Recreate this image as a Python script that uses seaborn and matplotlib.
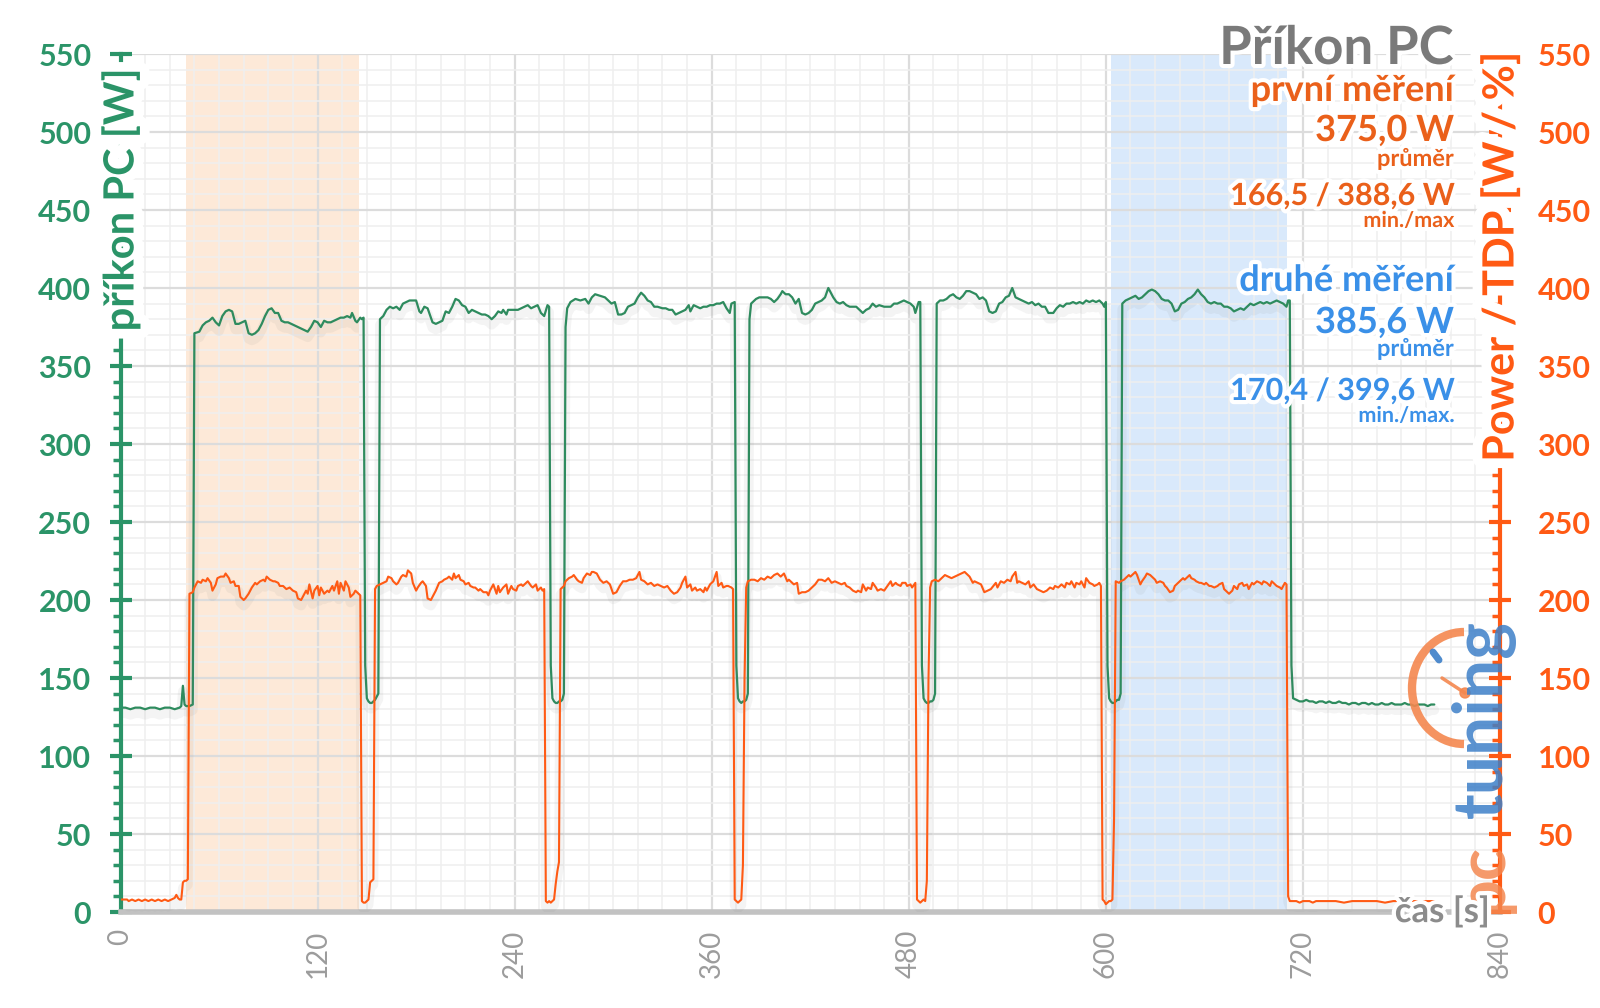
import matplotlib
matplotlib.use("Agg")
import matplotlib.pyplot as plt
import matplotlib.patheffects as pe
from matplotlib.patches import Arc, Circle
from matplotlib.ticker import MultipleLocator
import seaborn as sns

# ---------------- data ----------------
# PC power (green, left axis), time in s
pc_time = [0, 3, 6, 9, 12, 15, 18, 21, 24, 27, 30, 33, 36, 37, 38, 39, 40, 42, 44,
           45, 48, 50, 52, 54, 56, 58, 60, 62, 64, 66, 68, 70, 72, 74, 76, 78, 80, 82, 84, 86, 88, 90, 92, 94, 96, 98,
           100, 102, 104, 106, 108, 110, 112, 114, 116, 118, 120, 122, 124, 126, 128, 130, 132, 134, 136, 138, 140,
           141, 143, 144, 146, 147, 148,
           149, 150, 151, 152, 153, 154, 155, 156, 157,
           158, 160, 162, 164, 166, 168, 170, 172, 174, 176, 178, 180, 182, 183, 185, 187, 190, 192, 194, 196, 198,
           200, 202, 204, 206, 208, 210, 212, 214, 216, 218, 220, 222, 224, 226, 228, 230, 232, 233, 235, 236, 238,
           240, 242, 244, 246, 248, 250, 252, 254, 256, 258, 260, 261,
           262, 263, 264, 265, 266, 267, 268, 269, 270, 271,
           272, 274, 277, 280, 283, 285, 287, 289, 292, 295, 297, 299, 301, 303, 305, 307, 309, 311, 313, 315, 317,
           319, 321, 323, 325, 327, 330, 332, 334, 336, 338, 340, 342, 344, 346, 347, 349, 351, 353, 355, 357, 359,
           361, 363, 365, 367, 369, 371, 372, 374,
           375, 376, 377, 378, 379, 380, 381, 382, 383,
           384, 385, 387, 389, 392, 394, 396, 398, 400, 402, 403, 405, 407, 409, 411, 413, 415, 417, 419, 421, 423,
           425, 427, 429, 431, 433, 434, 436, 438, 440, 442, 444, 446, 448, 450, 452, 454, 456, 458, 460, 462, 465,
           467, 469, 471, 473, 475, 477, 479, 481, 483, 484, 486, 487,
           488, 489, 490, 491, 492, 493, 494, 495, 496,
           497, 499, 501, 503, 505, 507, 509, 511, 513, 515, 517, 519, 521, 523, 525, 527, 529, 531, 533, 535, 537,
           539, 541, 543, 545, 547, 549, 551, 553, 555, 557, 559, 561, 563, 565, 568, 570, 572, 574, 576, 578, 580,
           582, 584, 586, 588, 590, 592, 594, 596, 598, 599, 600,
           601, 602, 603, 604, 605, 606, 607, 608, 609,
           610, 612, 614, 616, 618, 620, 622, 624, 626, 628, 630, 632, 634, 636, 638, 640, 642, 644, 646, 648, 650,
           652, 654, 656, 658, 660, 662, 664, 666, 668, 670, 672, 674, 676, 678, 680, 682, 684, 686, 688, 690, 692,
           694, 696, 698, 700, 702, 704, 706, 708, 710, 711, 712,
           713, 714, 716, 718, 720, 722, 724, 726, 728, 730, 732, 734, 736, 738, 740, 742, 744, 746, 748, 750, 752,
           754, 756, 758, 760, 762, 764, 766, 768, 770, 772, 774, 776, 778, 780, 782, 784, 786, 788, 790, 792, 794,
           796, 798, 800]
pc_power = [131, 131, 130, 131, 131, 130, 131, 131, 130, 131, 131, 130, 131, 132, 145, 133, 132, 132, 133,
            371, 372, 376, 378, 379, 381, 378, 376, 382, 385, 386, 385, 377, 377, 378, 379, 371, 370, 371, 373, 377,
            382, 386, 387, 384, 384, 379, 378, 378, 377, 376, 375, 374, 373, 372, 375, 379, 378, 375, 379, 378, 378,
            379, 380, 381, 381, 382, 381, 384, 379, 378, 381, 380, 381,
            158, 137, 135, 134, 134, 135, 136, 138, 140,
            380, 382, 386, 388, 387, 388, 386, 390, 391, 392, 392, 392, 385, 384, 388, 387, 378, 377, 378, 379, 385,
            384, 388, 393, 392, 389, 388, 384, 386, 385, 384, 383, 383, 382, 380, 382, 385, 384, 386, 383, 386, 386,
            386, 386, 387, 388, 389, 387, 388, 389, 384, 382, 389, 388,
            158, 137, 135, 134, 134, 135, 135, 136, 140, 375,
            387, 391, 393, 392, 393, 390, 394, 396, 395, 394, 392, 390, 391, 383, 383, 384, 388, 389, 390, 394, 397,
            395, 392, 391, 388, 388, 387, 387, 386, 386, 383, 384, 385, 386, 389, 385, 389, 388, 387, 388, 388, 389,
            389, 390, 390, 391, 387, 384, 390, 391,
            158, 137, 135, 134, 135, 135, 136, 140, 380,
            390, 391, 393, 394, 394, 394, 393, 391, 393, 396, 398, 396, 396, 394, 390, 393, 384, 383, 384, 386, 390,
            391, 392, 394, 400, 396, 394, 391, 390, 391, 389, 388, 388, 388, 386, 384, 386, 387, 390, 388, 389, 388,
            388, 388, 390, 390, 391, 392, 391, 390, 388, 384, 391, 391,
            158, 137, 135, 134, 134, 135, 135, 136, 140,
            390, 392, 392, 393, 395, 396, 394, 393, 395, 398, 398, 397, 396, 393, 394, 392, 385, 384, 385, 390, 391,
            394, 395, 400, 394, 393, 392, 391, 390, 391, 389, 390, 388, 388, 384, 384, 387, 389, 388, 390, 390, 391,
            390, 391, 390, 392, 391, 392, 391, 392, 390, 388, 391,
            158, 137, 135, 134, 134, 135, 136, 136, 140,
            390, 392, 393, 394, 395, 393, 394, 396, 398, 399, 398, 396, 393, 392, 392, 390, 385, 386, 390, 391, 393,
            394, 396, 399, 396, 394, 391, 390, 391, 390, 390, 388, 388, 387, 385, 386, 387, 386, 388, 390, 389, 390,
            391, 390, 391, 390, 391, 392, 391, 390, 388, 392, 392,
            158, 137, 136, 135, 135, 136, 135, 135, 134, 135, 135, 134, 135, 134, 134, 135, 134, 134, 133, 134, 134,
            133, 134, 134, 133, 134, 133, 133, 134, 133, 133, 134, 133, 133, 133, 134, 133, 133, 132, 133, 133, 133,
            132, 133, 133]

# CPU Power / TDP (orange, right axis)
cpu_time = [0, 2, 4, 5, 7, 9, 11, 13, 15, 17, 19, 21, 23, 25, 27, 29, 31, 33, 34, 35, 36, 37, 38, 39, 40, 41,
            42, 44, 45, 47, 49, 50, 52, 53, 55, 56, 58, 59, 61, 63, 64, 66, 67, 69, 70, 72, 73, 75, 76, 78, 80, 82,
            83, 85, 87, 88, 89, 91, 93, 94, 96, 97, 99, 101, 103, 105, 107, 108, 110, 111, 113, 114, 115, 117, 118,
            120, 121, 122, 124, 126, 127, 129, 130, 132, 133, 134, 136, 137, 139, 140, 142, 143, 145, 146,
            147, 148, 149, 150, 151, 152, 153, 154,
            155, 156, 158, 160, 162, 163, 165, 166, 168, 169, 171, 172, 174, 175, 177, 178, 180, 181, 183, 184, 186,
            187, 189, 190, 192, 194, 196, 197, 199, 200, 202, 203, 204, 206, 207, 209, 210, 212, 213, 215, 216, 218,
            219, 221, 223, 224, 225, 227, 229, 230, 231, 233, 235, 236, 238, 239, 241, 242, 244, 245, 247, 248, 250,
            251, 253, 254, 256, 257, 258,
            259, 260, 261, 262, 263, 264, 265, 266, 267,
            268, 270, 271, 273, 275, 276, 278, 279, 281, 282, 284, 286, 287, 288, 290, 292, 294, 296, 298, 300, 302,
            304, 306, 308, 310, 312, 314, 316, 317, 319, 321, 323, 325, 327, 329, 331, 333, 335, 337, 339, 341, 342,
            344, 345, 347, 348, 350, 351, 353, 355, 356, 357, 359, 361, 363, 364, 366, 367, 369, 370, 372, 373,
            374, 375, 376, 377, 378, 379, 380, 381,
            382, 384, 386, 388, 390, 392, 394, 396, 398, 400, 402, 404, 406, 407, 409, 410, 412, 413, 415, 417, 419,
            421, 423, 425, 427, 429, 431, 433, 435, 437, 439, 441, 442, 444, 446, 448, 449, 451, 452, 454, 455, 457,
            458, 460, 461, 463, 465, 467, 469, 470, 472, 473, 475, 476, 478, 479, 481, 482, 484,
            485, 486, 487, 488, 489, 490, 491, 492, 493,
            494, 496, 498, 500, 502, 504, 506, 508, 510, 512, 514, 516, 517, 519, 520, 522, 524, 526, 528, 530, 533,
            534, 536, 538, 540, 542, 543, 545, 546, 547, 549, 551, 553, 554, 556, 558, 560, 562, 564, 566, 568, 569,
            571, 573, 575, 576, 578, 579, 581, 582, 584, 585, 587, 588, 590, 592, 593, 595, 596, 597,
            598, 599, 600, 601, 602, 603, 604, 605,
            606, 608, 609, 611, 612, 614, 615, 617, 618, 619, 621, 622, 624, 625, 627, 629, 630, 631, 633, 635, 636,
            637, 639, 641, 642, 644, 645, 647, 648, 650, 651, 652, 654, 655, 657, 658, 660, 661, 663, 664, 666, 668,
            669, 671, 672, 674, 675, 677, 678, 680, 681, 683, 684, 686, 687, 689, 690, 692, 694, 695, 696, 698, 700,
            701, 702, 704, 706, 707, 709, 710,
            711, 712, 714, 716, 718, 720, 722, 724, 726, 728, 730, 735, 740, 745, 750, 755, 760, 765, 770, 775, 780,
            785, 790, 795, 800]
cpu_power = [8, 8, 8, 7, 8, 7, 8, 7, 8, 7, 8, 7, 8, 7, 8, 7, 8, 9, 11, 9, 8, 8, 19, 20, 20, 21,
             204, 205, 208, 212, 211, 213, 212, 214, 211, 206, 210, 214, 215, 215, 217, 214, 211, 212, 209, 209,
             202, 200, 201, 204, 208, 211, 210, 212, 213, 212, 215, 213, 212, 212, 211, 209, 209, 207, 208, 206,
             205, 201, 200, 202, 206, 204, 210, 201, 206, 209, 203, 208, 204, 206, 205, 209, 206, 212, 204, 211,
             206, 212, 208, 202, 204, 206, 204, 203,
             7, 6, 6, 7, 8, 19, 20, 21,
             207, 209, 210, 211, 212, 215, 214, 212, 210, 211, 215, 216, 215, 219, 217, 211, 206, 208, 211, 212, 209,
             201, 200, 202, 206, 211, 212, 213, 214, 215, 213, 217, 214, 216, 213, 212, 210, 211, 209, 208, 208, 206,
             207, 205, 205, 203, 206, 210, 204, 209, 205, 208, 210, 204, 209, 207, 206, 209, 210, 209, 211, 212, 209,
             208, 210, 206, 208, 206, 207,
             7, 6, 7, 6, 7, 8, 18, 26, 32,
             207, 209, 212, 214, 215, 216, 213, 212, 211, 214, 217, 216, 218, 218, 217, 213, 211, 212, 210, 204, 205,
             209, 212, 212, 213, 213, 214, 218, 213, 212, 210, 211, 209, 210, 209, 208, 209, 206, 204, 205, 208, 211,
             215, 208, 210, 206, 208, 206, 207, 205, 208, 206, 210, 212, 218, 209, 211, 208, 209, 209, 208, 207,
             8, 7, 6, 7, 8, 30, 150, 208,
             212, 213, 213, 212, 214, 213, 215, 214, 216, 217, 215, 217, 212, 213, 211, 210, 211, 204, 205, 205, 206,
             208, 210, 213, 213, 212, 214, 211, 212, 211, 210, 211, 209, 208, 206, 205, 206, 205, 210, 206, 208, 207,
             211, 208, 206, 207, 206, 209, 212, 209, 211, 210, 209, 211, 211, 209, 210, 208, 211,
             8, 7, 6, 7, 8, 7, 20, 150, 208,
             212, 213, 212, 214, 216, 215, 214, 215, 216, 217, 218, 216, 215, 211, 212, 211, 210, 205, 206, 207, 211,
             208, 212, 211, 213, 212, 215, 218, 211, 212, 211, 210, 212, 208, 210, 207, 206, 205, 206, 208, 207, 209,
             208, 210, 208, 211, 210, 212, 208, 211, 210, 212, 208, 214, 211, 210, 209, 210, 211, 209,
             8, 7, 5, 6, 7, 7, 8, 60,
             212, 211, 212, 213, 214, 216, 215, 217, 218, 216, 210, 212, 215, 217, 216, 214, 213, 211, 212, 211, 209,
             208, 205, 206, 209, 211, 212, 214, 213, 215, 216, 214, 213, 212, 211, 211, 210, 211, 209, 209, 208, 209,
             210, 211, 207, 205, 204, 206, 209, 207, 210, 211, 209, 210, 207, 211, 210, 212, 211, 210, 212, 211, 209,
             212, 211, 209, 208, 207, 211, 210,
             10, 7, 7, 7, 6, 7, 7, 7, 6, 7, 7, 7, 7, 6, 7, 7, 7, 7, 6, 7, 7,
             7, 7, 7, 7]

# highlighted measurement windows (s)
window_first = [40, 145]
window_second = [603, 710]

x_ticks = [0, 120, 240, 360, 480, 600, 720, 840]
y_ticks = [0, 50, 100, 150, 200, 250, 300, 350, 400, 450, 500, 550]

# ---------------- style ----------------
GREEN_LINE = '#2e8b5e'
GREEN = '#2b9468'
ORANGE = '#ff5a14'
ORANGE_TXT = '#ea601a'
BLUE_TXT = '#3a90e8'
GRAY = '#9c9c9c'

sns.set_theme(style="white")
plt.rcParams['font.family'] = ['Lato', 'DejaVu Sans']

fig = plt.figure(figsize=(16, 10.08), dpi=100)
L, R, T, B = 120.5, 1500, 54, 912
ax = fig.add_axes([L / 1600, 1 - B / 1008, (R - L) / 1600, (B - T) / 1008])
ax2 = ax.twinx()

for a in (ax, ax2):
    a.set_xlim(0, 840)
    a.set_ylim(0, 550)

ax.set_axisbelow(True)
ax.xaxis.set_minor_locator(MultipleLocator(15))
ax.yaxis.set_minor_locator(MultipleLocator(10))
ax2.yaxis.set_minor_locator(MultipleLocator(10))
ax.grid(which='major', color='#dcdcdc', lw=1.6)
ax.grid(which='minor', color='#efefef', lw=1.1)
ax2.grid(False)

ax.axvspan(*window_first, color='#fde6d2', alpha=0.85, lw=0, zorder=0)
ax.axvspan(*window_second, color='#d5e7fb', alpha=0.9, lw=0, zorder=0)

shadow = [pe.SimpleLineShadow(offset=(0, -4), shadow_color='#777777', alpha=0.08, linewidth=7), pe.Normal()]
sns.lineplot(x=pc_time, y=pc_power, ax=ax, color=GREEN_LINE, lw=1.6, estimator=None, sort=False)
ax.lines[-1].set_path_effects(shadow)
sns.lineplot(x=cpu_time, y=cpu_power, ax=ax2, color=ORANGE, lw=1.5, estimator=None, sort=False)
ax2.lines[-1].set_path_effects(shadow)

ax.set_xlabel('')
ax.set_ylabel('')
ax2.set_ylabel('')

# spines
for s in ('top', 'right'):
    ax.spines[s].set_visible(False)
for s in ('top', 'left', 'bottom'):
    ax2.spines[s].set_visible(False)
ax.spines['left'].set_color(GREEN)
ax.spines['left'].set_linewidth(3)
ax.spines['bottom'].set_color('#c2c2c2')
ax.spines['bottom'].set_linewidth(4)
ax2.spines['right'].set_color(ORANGE)
ax2.spines['right'].set_linewidth(3)

# ticks
ax.set_xticks(x_ticks)
ax.set_yticks(y_ticks)
ax2.set_yticks(y_ticks)
ax.tick_params(axis='x', which='major', direction='inout', length=9, width=3, color='#c2c2c2',
               labelcolor=GRAY, labelsize=20, labelrotation=90, pad=8)
ax.tick_params(axis='x', which='minor', length=0)
ax.tick_params(axis='y', which='major', direction='inout', length=16, width=3, color=GREEN,
               labelcolor=GREEN, labelsize=22, pad=13)
ax.tick_params(axis='y', which='minor', direction='out', length=6, width=2.5, color=GREEN)
ax2.tick_params(axis='y', which='major', direction='inout', length=16, width=3, color=ORANGE,
                labelcolor=ORANGE, labelsize=22, pad=19)
ax2.tick_params(axis='y', which='minor', direction='in', length=6, width=2.5, color=ORANGE)
for lbl in ax.get_yticklabels() + ax2.get_yticklabels():
    lbl.set_fontweight('bold')

# ---------------- overlay texts (pixel coordinates) ----------------
ov = fig.add_axes([0, 0, 1, 1], zorder=10)
ov.set_xlim(0, 1600)
ov.set_ylim(1008, 0)
ov.axis('off')
ov.patch.set_alpha(0)
glow = [pe.withStroke(linewidth=6, foreground='white')]
wide_glow = [pe.withStroke(linewidth=14, foreground='white')]

ov.text(L, 200, 'příkon PC [W]', rotation=90, ha='center', va='center', color=GREEN,
        fontsize=30, fontweight='bold', path_effects=wide_glow)
ov.text(R, 257, 'Power / TDP [W / %]', rotation=90, ha='center', va='center', color=ORANGE,
        fontsize=31, fontweight='bold', path_effects=wide_glow)

xr = 1454
blocks = [
    ('Příkon PC', 64, 38, '#7a7a7a'),
    ('první měření', 101, 26, ORANGE_TXT),
    ('375,0 W', 141, 26, ORANGE_TXT),
    ('průměr', 166, 17, ORANGE_TXT),
    ('166,5 / 388,6 W', 205, 22, ORANGE_TXT),
    ('min./max', 227, 15.5, ORANGE_TXT),
    ('druhé měření', 291, 26, BLUE_TXT),
    ('385,6 W', 333, 26, BLUE_TXT),
    ('průměr', 356, 17, BLUE_TXT),
    ('170,4 / 399,6 W', 400, 22, BLUE_TXT),
    ('min./max.', 422, 15.5, BLUE_TXT),
]
for txt, yb, fs, col in blocks:
    ov.text(xr, yb, txt, ha='right', va='baseline', color=col, fontsize=fs, fontweight='bold',
            path_effects=glow)

# pctuning watermark
LOGO_O = '#f4874f'
LOGO_B = '#3c7fc8'
ov.text(1483, 913, 'pc', rotation=90, ha='center', va='bottom', color=LOGO_O, fontsize=48,
        fontweight='bold', alpha=0.85)
ov.text(1483, 818, 'tuning', rotation=90, ha='center', va='bottom', color=LOGO_B, fontsize=50,
        fontweight='bold', alpha=0.85)
ov.add_patch(Arc((1464, 688), 104, 112, theta1=90, theta2=270, color=LOGO_O, lw=6, alpha=0.9))
ov.plot([1465, 1442], [693, 678], color=LOGO_O, lw=2.5, alpha=0.9)
ov.add_patch(Circle((1465, 693), 5, color=LOGO_O, alpha=0.9))
ov.plot([1439, 1433], [660, 652], color=LOGO_B, lw=5, alpha=0.9)

ov.text(1490, 912, 'čas [s]', ha='right', va='center', color='#8c8c8c',
        fontsize=25, fontweight='bold', path_effects=glow)

fig.savefig('out.png', dpi=100, facecolor='white')
